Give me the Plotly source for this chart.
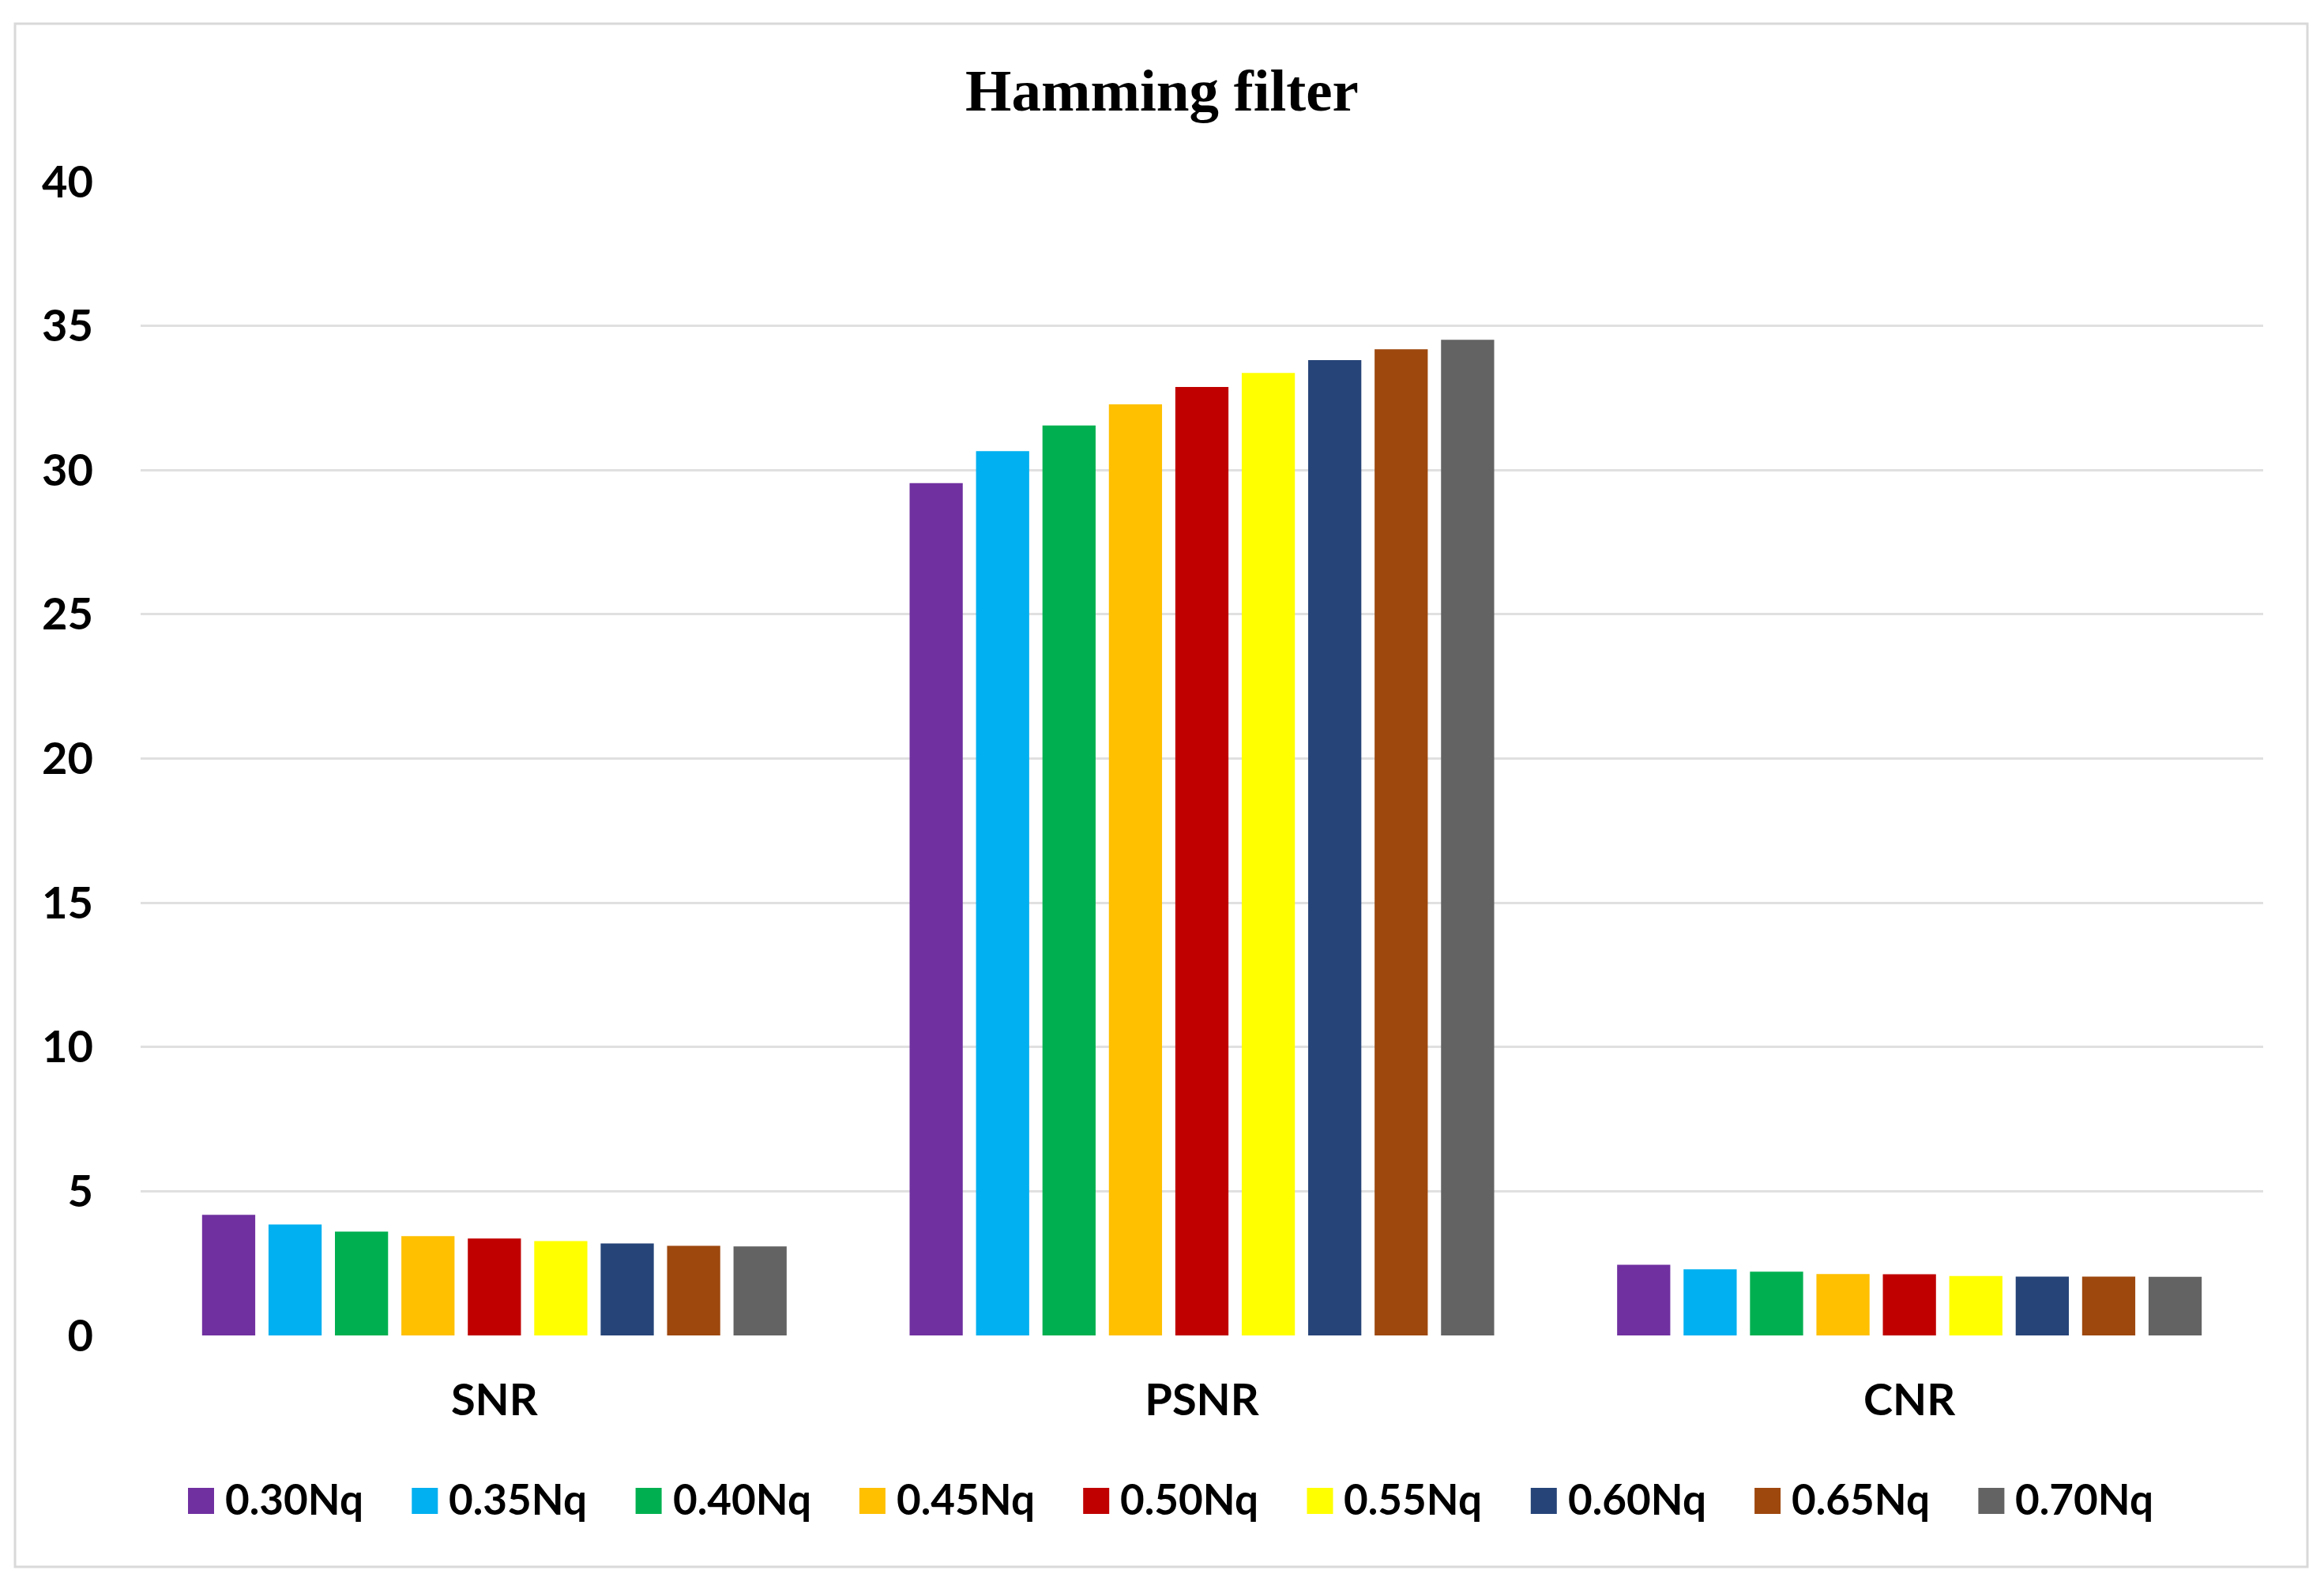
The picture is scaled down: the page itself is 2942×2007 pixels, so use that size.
import plotly.graph_objects as go

categories = ["SNR", "PSNR", "CNR"]
cutoffs = ["0.30Nq", "0.35Nq", "0.40Nq", "0.45Nq", "0.50Nq", "0.55Nq", "0.60Nq", "0.65Nq", "0.70Nq"]
snr = [4.18, 3.85, 3.60, 3.44, 3.36, 3.27, 3.19, 3.11, 3.09]
psnr = [29.55, 30.66, 31.55, 32.28, 32.88, 33.37, 33.81, 34.19, 34.52]
cnr = [2.45, 2.29, 2.21, 2.13, 2.12, 2.06, 2.04, 2.04, 2.03]
colors = ["#7030A0", "#00B0F0", "#00B050", "#FFC000", "#C00000",
          "#FFFF00", "#264478", "#9E480E", "#636363"]
y_ticks = [0, 5, 10, 15, 20, 25, 30, 35, 40]

W, H = 2942, 2007
L, R, T, B = 178, 2865, 230, 1691
FONT = "Lato"

def px_x(p):
    return (p - L) / (R - L)

def px_y(p):
    return (B - p) / (B - T)

fig = go.Figure()
for i, name in enumerate(cutoffs):
    fig.add_trace(go.Bar(
        x=categories, y=[snr[i], psnr[i], cnr[i]], name=name,
        marker=dict(color=colors[i], line=dict(width=0)),
        showlegend=False,
    ))

# custom legend (large square swatches)
shapes = []
annotations = []
step = 283.3
for i, name in enumerate(cutoffs):
    x0 = 238 + i * step
    shapes.append(dict(type="rect", xref="paper", yref="paper",
                       x0=px_x(x0), x1=px_x(x0 + 33), y0=px_y(1917), y1=px_y(1884),
                       fillcolor=colors[i], line=dict(width=0)))
    annotations.append(dict(text="<b>%s</b>" % name, xref="paper", yref="paper",
                            x=px_x(x0 + 45), y=px_y(1897), xanchor="left", yanchor="middle",
                            showarrow=False, font=dict(family=FONT, size=53, color="black")))

# outer chart border
shapes.append(dict(type="rect", xref="paper", yref="paper",
                   x0=px_x(19), x1=px_x(2921), y0=px_y(1984), y1=px_y(30),
                   line=dict(color="#d9d9d9", width=3), fillcolor="rgba(0,0,0,0)", layer="below"))

fig.update_layout(
    width=W, height=H,
    margin=dict(l=L, r=W - R, t=T, b=H - B, pad=0),
    paper_bgcolor="white", plot_bgcolor="white",
    title=dict(text="<b>Hamming filter</b>", x=0.5, xref="container", xanchor="center",
               y=1 - 114 / H, yref="container", yanchor="middle",
               font=dict(family="Liberation Serif", size=75, color="black")),
    barmode="group", bargap=0.155, bargroupgap=0.2,
    xaxis=dict(categoryorder="array", categoryarray=categories, showgrid=False,
               showline=False, zeroline=False, ticks="", ticklabelstandoff=44,
               tickfont=dict(family=FONT, size=56, color="black"),
               tickvals=categories, ticktext=["<b>%s</b>" % c for c in categories]),
    yaxis=dict(range=[0, 40], tickvals=y_ticks, ticktext=["<b>%d</b>" % v for v in y_ticks],
               showgrid=True, gridcolor="#e0e0e0", gridwidth=3, zeroline=False,
               showline=False, ticks="", ticklabelstandoff=59,
               tickfont=dict(family=FONT, size=56, color="black")),
    shapes=shapes, annotations=annotations,
    showlegend=False,
)

fig.write_html("out.html", config={"displayModeBar": False},
               post_script="document.body.style.margin='0px';")
